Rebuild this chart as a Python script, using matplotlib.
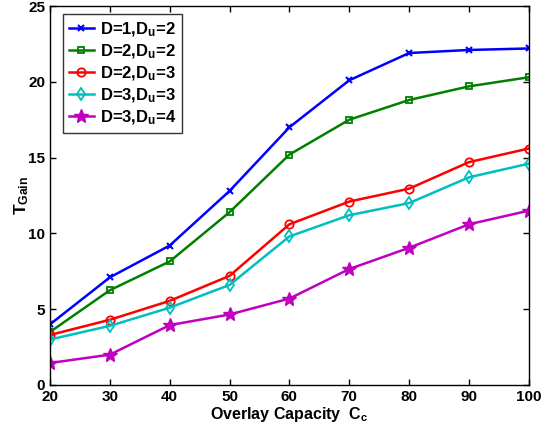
import matplotlib
matplotlib.use('Agg')
import matplotlib.pyplot as plt

# Overlay capacity values on the x axis
capacity = [20, 30, 40, 50, 60, 70, 80, 90, 100]

# T_Gain for each (D, D_u) setting
gain_d1_du2 = [4.0, 7.1, 9.2, 12.8, 17.0, 20.1, 21.9, 22.1, 22.2]
gain_d2_du2 = [3.5, 6.25, 8.15, 11.4, 15.2, 17.5, 18.8, 19.7, 20.3]
gain_d2_du3 = [3.3, 4.3, 5.55, 7.2, 10.6, 12.1, 12.95, 14.7, 15.6]
gain_d3_du3 = [3.0, 3.9, 5.1, 6.6, 9.8, 11.2, 12.0, 13.7, 14.6]
gain_d3_du4 = [1.45, 2.0, 3.95, 4.65, 5.7, 7.65, 9.05, 10.6, 11.5]

labels = ['D=1,D$_u$=2', 'D=2,D$_u$=2', 'D=2,D$_u$=3', 'D=3,D$_u$=3', 'D=3,D$_u$=4']

plt.rcParams['font.family'] = 'Liberation Sans'
plt.rcParams['font.weight'] = 'bold'
plt.rcParams['mathtext.fontset'] = 'custom'
plt.rcParams['mathtext.bf'] = 'Liberation Sans:bold'
plt.rcParams['mathtext.rm'] = 'Liberation Sans:bold'
plt.rcParams['mathtext.default'] = 'bf'

fig = plt.figure(figsize=(5.52, 4.3), dpi=100)
ax = fig.add_axes([0.0906, 0.1047, 0.8674, 0.8813])

ax.plot(capacity, gain_d1_du2, color='#0000ff', lw=1.8, marker='x', ms=5, mew=1.5, label=labels[0])
ax.plot(capacity, gain_d2_du2, color='#008000', lw=1.8, marker='s', ms=5, mew=1.3, mfc='none', label=labels[1])
ax.plot(capacity, gain_d2_du3, color='#ff0000', lw=1.8, marker='o', ms=6, mew=1.3, mfc='none', label=labels[2])
ax.plot(capacity, gain_d3_du3, color='#00bfbf', lw=1.8, marker='d', ms=6, mew=1.3, mfc='none', label=labels[3])
ax.plot(capacity, gain_d3_du4, color='#bf00bf', lw=1.8, marker='*', ms=10, mew=1.0, label=labels[4])

ax.set_xlim(20, 100)
ax.set_ylim(0, 25)
ax.set_xticks(capacity)
ax.set_yticks([0, 5, 10, 15, 20, 25])
ax.tick_params(direction='in', top=True, right=True, labelsize=11, width=1, length=4)
for s in ax.spines.values():
    s.set_linewidth(1)

ax.set_xlabel('Overlay Capacity  C$_c$', fontsize=11.5, fontweight='bold', labelpad=1)
ax.set_ylabel('T$_{Gain}$', fontsize=12.5, fontweight='bold')
ax.yaxis.set_label_coords(-0.04, 0.5)

leg = ax.legend(loc='upper left', bbox_to_anchor=(0.027, 0.978), borderaxespad=0,
                fontsize=12, frameon=True, fancybox=False, edgecolor='black',
                handlelength=1.5, handletextpad=0.4, labelspacing=0.22, borderpad=0.35)
leg.get_frame().set_linewidth(1)

fig.savefig('out.png', dpi=100)
